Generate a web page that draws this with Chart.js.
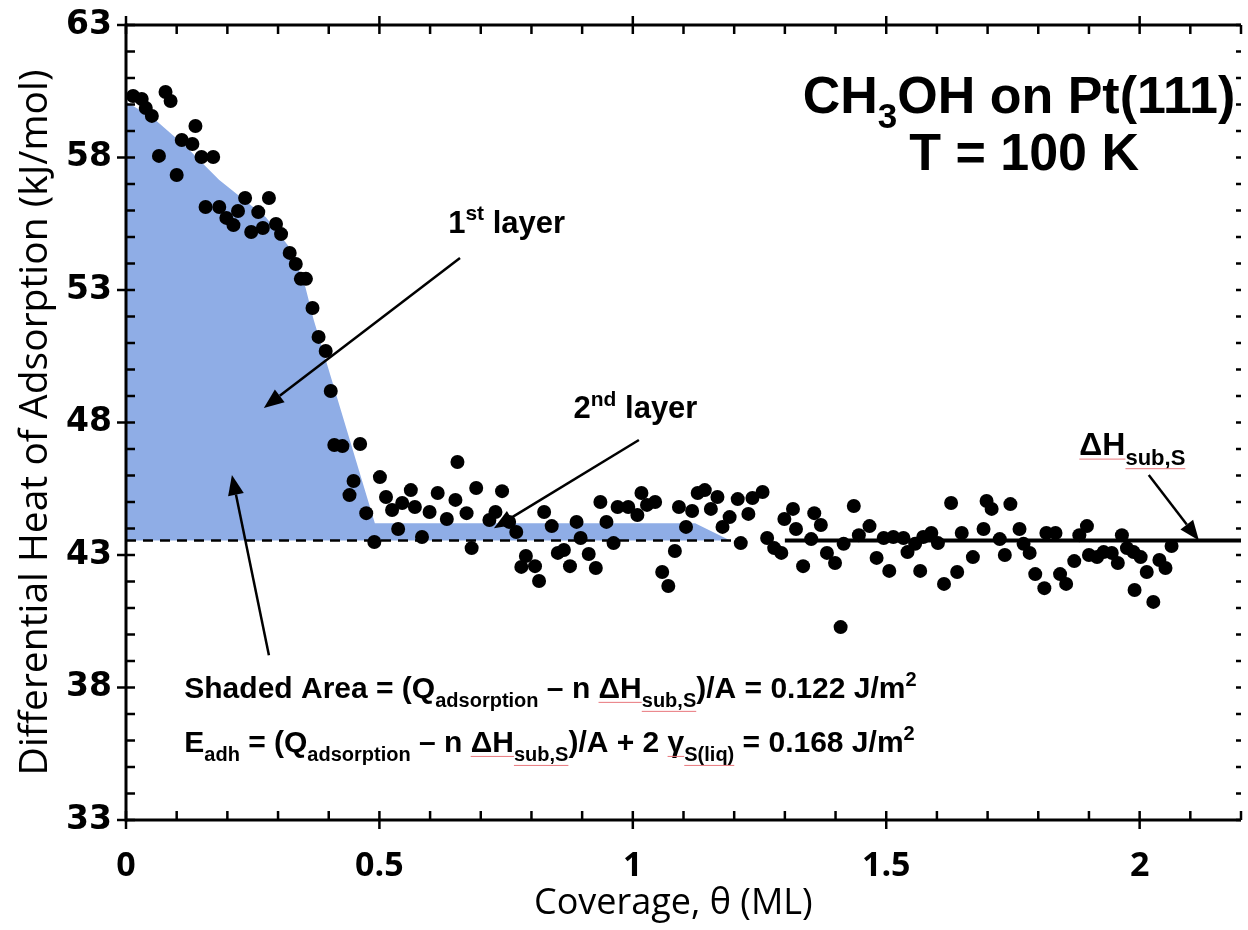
<!DOCTYPE html>
<html>
<head>
<meta charset="utf-8">
<script src="https://cdn.jsdelivr.net/npm/chart.js@4.4.1/dist/chart.umd.min.js"></script>
<style>
  html, body { margin: 0; padding: 0; background: #fff; overflow: hidden; }
</style>
</head>
<body>
<canvas id="heatChart" width="1248" height="930"></canvas>
<script>
// Calorimetry: CH3OH on Pt(111) at 100 K
const coverage = [
  0.014, 0.031, 0.039, 0.051, 0.065, 0.078, 0.088, 0.100, 0.110, 0.131,
  0.137, 0.149, 0.157, 0.172, 0.184, 0.198, 0.212, 0.221, 0.235, 0.247,
  0.261, 0.270, 0.282, 0.296, 0.306, 0.323, 0.335, 0.345, 0.355, 0.368,
  0.380, 0.394, 0.404, 0.411, 0.427, 0.441, 0.449, 0.462, 0.474, 0.490,
  0.501, 0.513, 0.525, 0.537, 0.545, 0.562, 0.570, 0.584, 0.599, 0.615,
  0.633, 0.650, 0.654, 0.672, 0.682, 0.691, 0.717, 0.729, 0.742, 0.756,
  0.770, 0.780, 0.789, 0.807, 0.815, 0.825, 0.840, 0.852, 0.864, 0.876,
  0.889, 0.897, 0.913, 0.927, 0.936, 0.948, 0.962, 0.970, 0.991, 1.009,
  1.017, 1.028, 1.044, 1.058, 1.070, 1.083, 1.091, 1.105, 1.117, 1.128,
  1.142, 1.154, 1.167, 1.177, 1.191, 1.207, 1.213, 1.228, 1.236, 1.256,
  1.265, 1.279, 1.293, 1.299, 1.316, 1.322, 1.336, 1.352, 1.358, 1.371,
  1.383, 1.399, 1.410, 1.416, 1.436, 1.446, 1.467, 1.481, 1.495, 1.506,
  1.514, 1.534, 1.542, 1.557, 1.567, 1.573, 1.589, 1.602, 1.614, 1.628,
  1.640, 1.649, 1.671, 1.692, 1.698, 1.708, 1.724, 1.734, 1.745, 1.763,
  1.771, 1.783, 1.794, 1.812, 1.816, 1.834, 1.843, 1.855, 1.871, 1.881,
  1.896, 1.900, 1.916, 1.929, 1.945, 1.957, 1.965, 1.975, 1.988, 1.990,
  2.002, 2.014, 2.027, 2.039, 2.051, 2.063
];
const heat = [
  60.32, 60.21, 59.87, 59.57, 58.06, 60.47, 60.13, 57.34, 58.66, 58.51,
  59.19, 58.02, 56.13, 58.02, 56.13, 55.72, 55.45, 55.98, 56.47, 55.19,
  55.94, 55.34, 56.47, 55.49, 55.11, 54.40, 53.98, 53.42, 53.42, 52.32,
  51.23, 50.70, 49.19, 47.15, 47.11, 45.26, 45.79, 47.19, 44.58, 43.49,
  45.94, 45.19, 44.70, 43.98, 44.96, 45.45, 44.81, 43.68, 44.62, 45.34,
  44.36, 45.08, 46.51, 44.58, 43.26, 45.53, 44.32, 44.62, 45.41, 44.25,
  43.87, 42.55, 42.96, 42.58, 42.02, 44.62, 44.09, 43.08, 43.19, 42.58,
  44.25, 43.64, 43.04, 42.51, 45.00, 44.25, 43.45, 44.81, 44.81, 44.51,
  45.34, 44.89, 45.00, 42.36, 41.83, 43.15, 44.81, 44.06, 44.66, 45.34,
  45.45, 44.74, 45.19, 44.06, 44.43, 45.11, 43.45, 44.55, 45.15, 45.38,
  43.64, 43.26, 43.08, 44.36, 44.74, 43.98, 42.58, 43.60, 44.58, 44.13,
  43.08, 42.70, 40.28, 43.42, 44.85, 43.75, 44.09, 42.89, 43.64, 42.40,
  43.68, 43.64, 43.11, 43.42, 42.40, 43.68, 43.83, 43.45, 41.91, 44.96,
  42.36, 43.83, 42.92, 43.98, 45.04, 44.74, 43.60, 43.00, 44.92, 43.98,
  43.42, 43.08, 42.28, 41.75, 43.83, 43.83, 42.28, 41.91, 42.77, 43.75,
  44.09, 43.00, 42.92, 43.11, 43.08, 42.70, 43.75, 43.26, 43.11, 41.68,
  42.92, 42.36, 41.23, 42.81, 42.51, 43.34
];

// upper edge of the shaded region (1st + 2nd layer excess heat)
const shadeCoverage = [0, 0.053, 0.119, 0.184, 0.276, 0.327, 0.354, 0.370, 0.491, 1.123, 1.192];
const shadeHeat = [60.1, 59.5, 58.4, 57.15, 55.75, 54.5, 53.1, 51.9, 44.2, 44.2, 43.55];

// heat of sublimation of solid methanol, kJ/mol
const subLevel = 43.55;
const dashedSpan = [0, 1.2];
const solidSpan = [1.3, 2.2];

const xTicks = [0, 0.5, 1, 1.5, 2];
const yTicks = [33, 38, 43, 48, 53, 58, 63];
const xTickLabels = ['0', '0.5', '1', '1.5', '2'];

const ARIAL = '"Liberation Sans", Arial, sans-serif';
const HEAVY = '"DejaVu Sans", Arial, sans-serif';
const CALIBRI = '"Open Sans", sans-serif';
const BLUE = '#8fade6';

function line(ctx, x1, y1, x2, y2) {
  ctx.beginPath();
  ctx.moveTo(x1, y1);
  ctx.lineTo(x2, y2);
  ctx.stroke();
}

function arrow(ctx, x1, y1, x2, y2) {
  const ang = Math.atan2(y2 - y1, x2 - x1);
  const len = 20, half = 8;
  const bx = x2 - len * Math.cos(ang), by = y2 - len * Math.sin(ang);
  ctx.lineWidth = 2.5;
  line(ctx, x1, y1, bx, by);
  ctx.beginPath();
  ctx.moveTo(x2, y2);
  ctx.lineTo(bx + half * Math.sin(ang), by - half * Math.cos(ang));
  ctx.lineTo(bx - half * Math.sin(ang), by + half * Math.cos(ang));
  ctx.closePath();
  ctx.fill();
}

// runs: [text, 'sub' | 'sup' | '', 'u' for a red spell-check underline]
function drawRuns(ctx, runs, x, y, size, align) {
  const fontFor = k => `bold ${k ? Math.round(size * 0.68) : size}px ${ARIAL}`;
  let w = 0;
  runs.forEach(([t, k]) => { ctx.font = fontFor(k); w += ctx.measureText(t).width; });
  let cx = align === 'center' ? x - w / 2 : x;
  ctx.textAlign = 'left';
  ctx.textBaseline = 'alphabetic';
  runs.forEach(([t, k, u]) => {
    ctx.font = fontFor(k);
    const dy = k === 'sub' ? size * 0.3 : k === 'sup' ? -size * 0.4 : 0;
    const tw = ctx.measureText(t).width;
    ctx.fillStyle = '#000';
    ctx.fillText(t, cx, y + dy);
    if (u) {
      ctx.save();
      ctx.strokeStyle = '#e8777d';
      ctx.lineWidth = 1;
      line(ctx, cx, y + dy + 4, cx + tw, y + dy + 4);
      ctx.restore();
    }
    cx += tw;
  });
}

const decorations = {
  id: 'decorations',
  afterDatasetsDraw(chart) {
    const { ctx, chartArea: a, scales: { x, y } } = chart;
    const px = v => x.getPixelForValue(v);
    const py = v => y.getPixelForValue(v);
    ctx.save();
    ctx.strokeStyle = '#000';
    ctx.fillStyle = '#000';
    ctx.lineCap = 'butt';

    // frame
    ctx.lineWidth = 3;
    line(ctx, a.left, a.top - 1.5, a.left, a.bottom + 1.5);
    line(ctx, a.left, a.bottom, a.right, a.bottom);
    line(ctx, a.left, a.top, a.right, a.top);

    // y ticks (minor every 1 kJ/mol), plus the right-hand ticks at the edge
    ctx.lineWidth = 2.5;
    for (let v = 33; v <= 63; v++) {
      const p = py(v);
      const major = yTicks.includes(v);
      line(ctx, major ? a.left - 9 : a.left, p, a.left + 9, p);
      line(ctx, a.right - 5, p, a.right, p);
    }
    // x ticks (minor every 0.1 ML) on bottom and top
    for (let i = 0; i <= 22; i++) {
      const p = px(i / 10);
      const major = i % 5 === 0;
      line(ctx, p, a.bottom - 9, p, major ? a.bottom + 9 : a.bottom);
      line(ctx, p, a.top + 9, p, major ? a.top - 9 : a.top);
    }

    // axis titles
    ctx.fillStyle = '#000';
    ctx.textAlign = 'center';
    ctx.textBaseline = 'middle';
    ctx.font = `36px ${CALIBRI}`;
    ctx.fillText('Coverage, \u03b8 (ML)', px(1.08), 904);
    ctx.save();
    ctx.translate(36, (a.top + a.bottom) / 2);
    ctx.rotate(-Math.PI / 2);
    ctx.font = `39px ${CALIBRI}`;
    ctx.fillText('Differential Heat of Adsorption (kJ/mol)', 0, 0);
    ctx.restore();

    // title block
    drawRuns(ctx, [['CH'], ['3', 'sub'], ['OH on Pt(111)']], px(1.762), py(59.69), 52, 'center');
    drawRuns(ctx, [['T = 100 K']], px(1.772), py(57.54), 52, 'center');

    // layer labels and arrows
    drawRuns(ctx, [['1'], ['st', 'sup'], [' layer']], px(0.751), py(55.16), 31, 'center');
    arrow(ctx, px(0.659), py(54.21), px(0.272), py(48.55));
    drawRuns(ctx, [['2'], ['nd', 'sup'], [' layer']], px(0.883), py(48.17), 31, 'left');
    arrow(ctx, px(1.012), py(47.34), px(0.726), py(44.01));

    drawRuns(ctx, [['\u0394H', '', 'u'], ['sub,S', 'sub', 'u']], px(1.881), py(46.77), 32, 'left');
    arrow(ctx, px(2.018), py(46.02), px(2.117), py(subLevel));

    arrow(ctx, px(0.282), py(39.22), px(0.209), py(46.02));

    // formulas
    drawRuns(ctx, [
      ['Shaded Area = (Q'], ['adsorption', 'sub'], [' \u2013 n '], ['\u0394H', '', 'u'], ['sub,S', 'sub', 'u'],
      [')/A = 0.122 J/m'], ['2', 'sup']
    ], px(0.115), py(37.59), 30, 'left');
    drawRuns(ctx, [
      ['E'], ['adh', 'sub'], [' = (Q'], ['adsorption', 'sub'], [' \u2013 n '], ['\u0394H', '', 'u'], ['sub,S', 'sub', 'u'],
      [')/A + 2 '], ['\u03b3', '', 'u'], ['S(liq)', 'sub', 'u'], [' = 0.168 J/m'], ['2', 'sup']
    ], px(0.115), py(35.55), 30, 'left');

    ctx.restore();
  }
};

const points = coverage.map((c, i) => ({ x: c, y: heat[i] }));
const shade = shadeCoverage.map((c, i) => ({ x: c, y: shadeHeat[i] }));

new Chart(document.getElementById('heatChart').getContext('2d'), {
  type: 'scatter',
  data: {
    datasets: [
      {
        label: 'q_diff',
        data: points,
        pointRadius: 7,
        pointBackgroundColor: '#000',
        pointBorderWidth: 0,
        order: 0,
      },
      {
        type: 'line',
        label: 'excess',
        data: shade,
        fill: { value: subLevel },
        backgroundColor: BLUE,
        borderWidth: 0,
        pointRadius: 0,
        tension: 0,
        order: 5,
      },
      {
        type: 'line',
        label: 'sub dashed',
        data: dashedSpan.map(c => ({ x: c, y: subLevel })),
        borderColor: '#000',
        borderWidth: 2.5,
        borderDash: [10, 7],
        pointRadius: 0,
        fill: false,
        order: 2,
      },
      {
        type: 'line',
        label: 'sub solid',
        data: solidSpan.map(c => ({ x: c, y: subLevel })),
        borderColor: '#000',
        borderWidth: 4,
        pointRadius: 0,
        fill: false,
        order: 1,
      },
    ],
  },
  options: {
    responsive: false,
    animation: false,
    devicePixelRatio: 1,
    layout: { padding: { top: 25, left: 0, right: 0, bottom: 0 } },
    plugins: { legend: { display: false }, tooltip: { enabled: false } },
    scales: {
      x: {
        type: 'linear',
        min: 0,
        max: 2.2,
        afterBuildTicks: s => { s.ticks = xTicks.map(v => ({ value: v })); },
        afterFit: s => { s.height = 110; s.paddingLeft = 0; s.paddingRight = 0; },
        grid: { display: false, drawTicks: false },
        border: { display: false },
        ticks: {
          padding: 26,
          color: '#000',
          font: { family: CALIBRI, weight: 'bold', size: 34 },
          callback: v => xTickLabels[xTicks.indexOf(v)],
        },
      },
      y: {
        type: 'linear',
        min: 33,
        max: 63,
        afterBuildTicks: s => { s.ticks = yTicks.map(v => ({ value: v })); },
        afterFit: s => { s.width = 126; s.paddingTop = 0; s.paddingBottom = 0; },
        grid: { display: false, drawTicks: false },
        border: { display: false },
        ticks: {
          padding: 14,
          color: '#000',
          font: { family: HEAVY, weight: 'bold', size: 33 },
        },
      },
    },
  },
  plugins: [decorations],
});
</script>
</body>
</html>
